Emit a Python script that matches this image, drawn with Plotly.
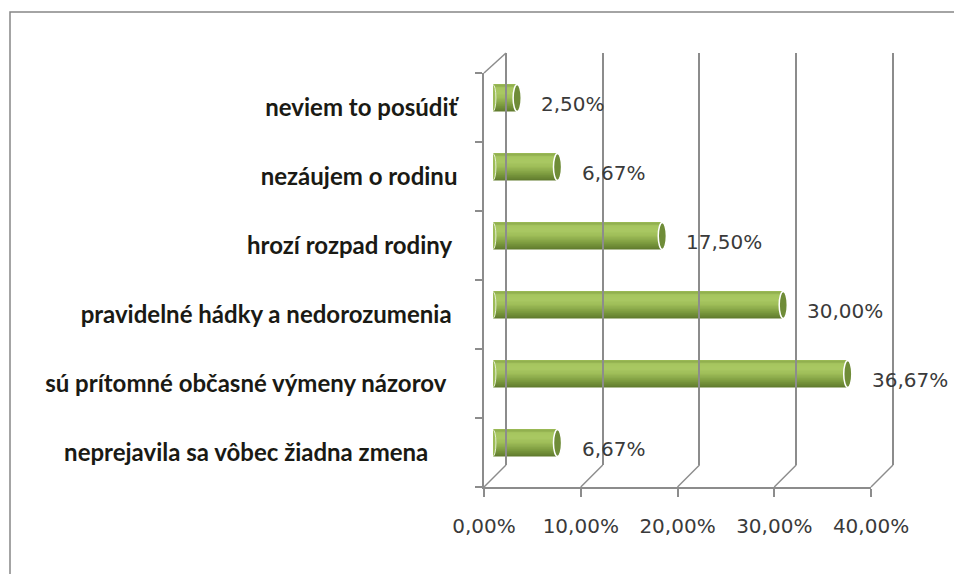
import plotly.graph_objects as go

categories = [
    "neprejavila sa vôbec žiadna zmena",
    "sú prítomné občasné výmeny názorov",
    "pravidelné hádky a nedorozumenia",
    "hrozí rozpad rodiny",
    "nezáujem o rodinu",
    "neviem to posúdiť",
]
label_pad = [5, 2, 1, 1, 0, 0]  # trailing spaces seen in the original labels
values = [6.67, 36.67, 30.00, 17.50, 6.67, 2.50]
value_labels = ["6,67%", "36,67%", "30,00%", "17,50%", "6,67%", "2,50%"]
x_ticks = [0, 10, 20, 30, 40]
x_tick_labels = ["0,00%", "10,00%", "20,00%", "30,00%", "40,00%"]

W, H = 962, 574
OFF = 8  # page body margin
GRID = "#8c8c8c"

# pixel layout of the pseudo-3D box (page coordinates)
front_x = (484, 871)
bar_x = (493, 880)
back_x = (506, 893)
front_y = (487, 73)
bar_y = (477.5, 63.5)
back_y = (465, 53)

def px(x):
    return (x - OFF) / W

def py(y):
    return 1 - (y - OFF) / H

pos = list(range(len(categories)))
fig = go.Figure()

# cylinder shading: colour stops across the bar thickness (bottom -> top)
BAR_W = 0.39
stops = [
    (0.00, (95, 122, 45)),
    (0.25, (125, 156, 64)),
    (0.50, (157, 188, 87)),
    (0.70, (170, 201, 99)),
    (0.88, (166, 197, 95)),
    (1.00, (140, 170, 75)),
]

def shade(f):
    for (f0, c0), (f1, c1) in zip(stops[:-1], stops[1:]):
        if f0 <= f <= f1:
            t = (f - f0) / (f1 - f0)
            return "rgb(%d,%d,%d)" % tuple(round(a + (b - a) * t) for a, b in zip(c0, c1))
    return "rgb(%d,%d,%d)" % stops[-1][1]

N_BANDS = 20
for k in range(N_BANDS):
    lo = k / N_BANDS
    fig.add_trace(go.Bar(
        x=values, y=pos, orientation="h",
        width=BAR_W * (1 - lo), offset=-BAR_W / 2 + BAR_W * lo,
        marker=dict(color=shade(lo + 0.5 / N_BANDS), line=dict(width=0)),
        xaxis="x2", yaxis="y2", hoverinfo="skip", showlegend=False,
    ))

# rounded starts and end caps of the cylinders
for v, p in zip(values, pos):
    fig.add_shape(type="circle", xref="x2", yref="y2",
                  x0=-0.3, x1=0.3, y0=p - BAR_W / 2, y1=p + BAR_W / 2,
                  fillcolor="#9dbc57", line=dict(color="#e4eed3", width=1))
    fig.add_shape(type="circle", xref="x2", yref="y2",
                  x0=v - 0.42, x1=v + 0.42, y0=p - BAR_W / 2, y1=p + BAR_W / 2,
                  fillcolor="#6f8c38", line=dict(color="white", width=1.5))

# value labels
for v, p, t in zip(values, pos, value_labels):
    fig.add_annotation(x=v, y=p, xref="x2", yref="y2", text=t,
                       showarrow=False, xanchor="left", xshift=22, yshift=-6,
                       font=dict(family="DejaVu Sans", size=20, color="#3a3a3a"))

# invisible traces to anchor the front and back axes
fig.add_trace(go.Scatter(x=[0, 40], y=[0, 5], mode="markers",
                         marker=dict(opacity=0), xaxis="x", yaxis="y",
                         hoverinfo="skip", showlegend=False))
fig.add_trace(go.Scatter(x=[0, 40], y=[0, 1], mode="markers",
                         marker=dict(opacity=0), xaxis="x3", yaxis="y3",
                         hoverinfo="skip", showlegend=False))

# floor diagonals from front ticks to back wall
for t in x_ticks:
    fx = front_x[0] + (front_x[1] - front_x[0]) * t / 40
    bx = back_x[0] + (back_x[1] - back_x[0]) * t / 40
    fig.add_shape(type="line", xref="paper", yref="paper",
                  x0=px(fx), y0=py(front_y[0]), x1=px(bx), y1=py(back_y[0]),
                  line=dict(color=GRID, width=1.5), layer="below")
# left wall top diagonal
fig.add_shape(type="line", xref="paper", yref="paper",
              x0=px(front_x[0]), y0=py(front_y[1]), x1=px(back_x[0]), y1=py(back_y[1]),
              line=dict(color=GRID, width=1.5), layer="below")

# outer chart border
fig.add_shape(type="rect", xref="paper", yref="paper",
              x0=px(10), y0=-0.05, x1=1.05, y1=py(12),
              line=dict(color="#868686", width=1.5), fillcolor="rgba(0,0,0,0)")

cat_text = [c + "\u00a0" * n for c, n in zip(categories, label_pad)]

# back wall axis padded a little so the edge grid lines are drawn
PAD = 0.3
back_scale = (back_x[1] - back_x[0]) / 40

fig.update_layout(
    width=W, height=H,
    margin=dict(l=0, r=0, t=0, b=0, autoexpand=False),
    paper_bgcolor="white", plot_bgcolor="rgba(0,0,0,0)",
    barmode="overlay",
    xaxis=dict(domain=[px(front_x[0]), px(front_x[1])], range=[0, 40],
               tickvals=x_ticks, ticktext=x_tick_labels,
               ticks="outside", ticklen=8, tickcolor=GRID, tickwidth=1.5,
               ticklabelstandoff=12, automargin=False,
               showgrid=False, zeroline=False, showline=True,
               linecolor=GRID, linewidth=1.5,
               tickfont=dict(family="DejaVu Sans", size=20, color="#3a3a3a"),
               anchor="y", fixedrange=True),
    yaxis=dict(domain=[py(front_y[0]), py(front_y[1])], range=[-0.5, 5.5],
               tickvals=pos, ticktext=cat_text, ticks="",
               ticklabelstandoff=20, automargin=False,
               minor=dict(tick0=-0.5, dtick=1, ticks="outside", ticklen=7,
                          tickcolor=GRID, tickwidth=1.5, showgrid=False),
               showgrid=False, zeroline=False, showline=True,
               linecolor=GRID, linewidth=1.5,
               tickfont=dict(family="Lato", size=24, color="#1a1a14", weight="bold"),
               anchor="x", fixedrange=True),
    xaxis2=dict(domain=[px(bar_x[0]), px(bar_x[1])], range=[0, 40],
                visible=False, anchor="y2", fixedrange=True, automargin=False),
    yaxis2=dict(domain=[py(bar_y[0]), py(bar_y[1])], range=[-0.5, 5.5],
                visible=False, anchor="x2", fixedrange=True, automargin=False),
    xaxis3=dict(domain=[px(back_x[0] - PAD * back_scale), px(back_x[1] + PAD * back_scale)],
                range=[-PAD, 40 + PAD],
                tickvals=x_ticks, showticklabels=False, ticks="",
                showgrid=True, gridcolor=GRID, gridwidth=1.5, automargin=False,
                zeroline=False, showline=False, anchor="y3", fixedrange=True),
    yaxis3=dict(domain=[py(back_y[0]), py(back_y[1])], range=[0, 1],
                showticklabels=False, showgrid=False, zeroline=False, automargin=False,
                ticks="", anchor="x3", fixedrange=True),
)

fig.write_html("out.html")
